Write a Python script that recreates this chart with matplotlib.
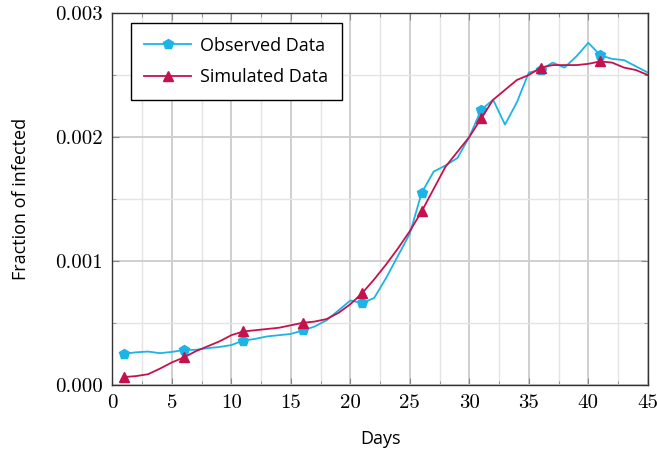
import matplotlib
matplotlib.use("Agg")
from matplotlib import pyplot as plt
from matplotlib.ticker import MultipleLocator, FormatStrFormatter
import numpy as np

# data: days 1..45
days = np.arange(1, 46)
observed = [0.00025, 0.000262, 0.000268, 0.000255, 0.000265, 0.00028, 0.000282, 0.000295,
            0.000305, 0.00032, 0.000357, 0.00037, 0.00039, 0.0004, 0.00041, 0.000438,
            0.00047, 0.00052, 0.0006, 0.00068, 0.00066, 0.0007, 0.00086, 0.00104,
            0.00122, 0.00155, 0.00172, 0.00177, 0.00183, 0.002, 0.00222, 0.0023,
            0.0021, 0.00228, 0.00252, 0.00254, 0.0026, 0.00256, 0.00265, 0.00276,
            0.00266, 0.00263, 0.00262, 0.00257, 0.00252]
simulated = [0.000062, 0.00007, 0.000085, 0.00013, 0.00018, 0.00022, 0.00027, 0.00031,
             0.00035, 0.0004, 0.00043, 0.00044, 0.00045, 0.00046, 0.00048, 0.0005,
             0.00051, 0.00053, 0.00058, 0.00065, 0.00074, 0.00085, 0.00097, 0.0011,
             0.00124, 0.0014, 0.00158, 0.00176, 0.00188, 0.002, 0.00215, 0.0023,
             0.00238, 0.00246, 0.0025, 0.00256, 0.00258, 0.00258, 0.00258, 0.00259,
             0.00261, 0.0026, 0.00256, 0.00254, 0.0025]

blue = '#1cb4e6'
red = '#c4124c'

fig = plt.figure(figsize=(6.57, 4.5), dpi=100)
ax = fig.add_axes([0.171, 0.145, 0.815, 0.826])

ax.plot(days, observed, color=blue, lw=1.3, marker='p', markersize=7.5,
        markevery=5, label='Observed Data')
ax.plot(days, simulated, color=red, lw=1.3, marker='^', markersize=6.5,
        markevery=5, label='Simulated Data')

ax.set_xlim(0, 45)
ax.set_ylim(0, 0.003)
ax.xaxis.set_major_locator(MultipleLocator(5))
ax.xaxis.set_minor_locator(MultipleLocator(2.5))
ax.yaxis.set_major_locator(MultipleLocator(0.001))
ax.yaxis.set_minor_locator(MultipleLocator(0.0005))
ax.yaxis.set_major_formatter(FormatStrFormatter('%.3f'))

ax.grid(which='major', color='#cfcfcf', lw=1.4)
ax.grid(which='minor', color='#e4e4e4', lw=1.0)
ax.set_axisbelow(True)

ax.tick_params(which='both', direction='in', top=True, right=True, color='#888888')
ax.tick_params(which='major', length=5, labelsize=15, pad=7)
ax.tick_params(which='minor', length=3)
for lab in ax.get_xticklabels() + ax.get_yticklabels():
    lab.set_fontfamily('cmr10')

for sp in ax.spines.values():
    sp.set_color('#333333')
    sp.set_linewidth(1.0)

ax.set_xlabel('Days', fontfamily='Open Sans', fontsize=13, labelpad=13)
ax.set_ylabel('Fraction of infected', fontfamily='Open Sans', fontsize=13, labelpad=18)

leg = ax.legend(loc='upper left', bbox_to_anchor=(0.034, 0.973), borderaxespad=0,
                fancybox=False, edgecolor='black', framealpha=1,
                prop={'family': 'Open Sans', 'size': 13},
                handlelength=2.6, handletextpad=0.5, borderpad=0.75, labelspacing=0.75)
leg.get_frame().set_linewidth(1.0)

fig.savefig('out.png', dpi=100)
